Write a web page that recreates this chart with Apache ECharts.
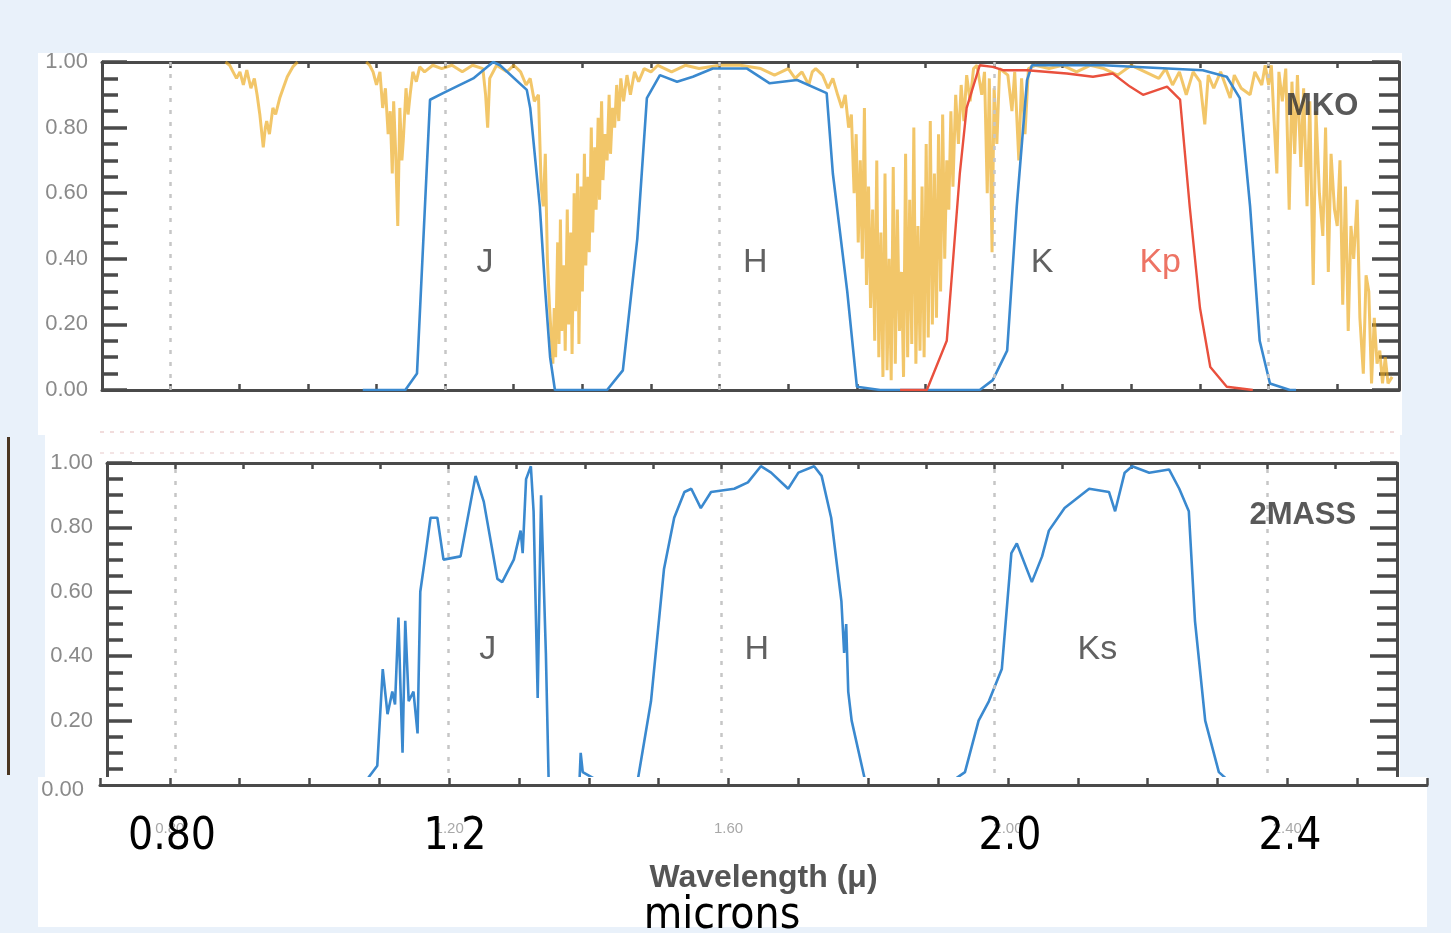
<!DOCTYPE html>
<html>
<head>
<meta charset="utf-8">
<script src="https://cdn.jsdelivr.net/npm/echarts@6/dist/echarts.min.js"></script>
<style>
  html, body { margin: 0; padding: 0; background: #e9f1fa; }
  #chart { width: 1451px; height: 933px; }
</style>
</head>
<body>
<div id="chart"></div>
<script>
// ==================== DATA ====================
// x: wavelength (micron), y: transmission
const xGridValues = [0.8, 1.2, 1.6, 2.0, 2.4];
const xTickLabels = ['0.80', '1.20', '1.60', '2.00', '2.40'];
const bigXLabels = ['0.80', '1.2', '2.0', '2.4'];

// MKO atmosphere (gold); null = gap along the top border
const atmMKO = [
  [0.88,1.0],[0.886,0.99],[0.891,0.97],[0.896,0.95],[0.901,0.97],[0.906,0.93],[0.911,0.975],[0.917,0.92],[0.922,0.95],
  [0.926,0.90],[0.930,0.84],[0.935,0.74],[0.938,0.80],[0.940,0.82],[0.944,0.78],[0.949,0.86],[0.953,0.84],[0.959,0.89],[0.964,0.92],
  [0.970,0.955],[0.978,0.985],[0.985,1.0],[1.03,null],
  [1.085,1.0],[1.090,0.99],[1.095,0.97],[1.100,0.93],[1.105,0.97],[1.109,0.86],[1.113,0.92],[1.117,0.78],[1.120,0.85],[1.123,0.66],
  [1.125,0.88],[1.128,0.72],[1.131,0.50],[1.134,0.86],[1.137,0.70],[1.139,0.76],[1.143,0.92],[1.146,0.84],[1.149,0.90],[1.153,0.97],
  [1.158,0.94],[1.163,0.985],[1.170,0.97],[1.182,0.99],[1.195,0.98],[1.210,0.99],[1.225,0.97],[1.240,0.99],[1.255,0.98],[1.259,0.90],
  [1.262,0.80],[1.265,0.95],[1.275,0.99],[1.290,0.97],[1.300,0.99],
  [1.310,0.97],[1.318,0.93],[1.324,0.95],[1.330,0.88],[1.336,0.90],[1.340,0.62],[1.343,0.56],[1.346,0.72],[1.349,0.40],[1.352,0.26],
  [1.355,0.15],[1.357,0.08],[1.359,0.25],[1.361,0.10],[1.364,0.45],[1.366,0.14],[1.368,0.52],[1.370,0.18],[1.373,0.38],[1.375,0.12],
  [1.378,0.55],[1.380,0.20],[1.383,0.48],[1.385,0.11],[1.388,0.60],[1.390,0.24],[1.393,0.66],[1.395,0.14],[1.398,0.62],[1.400,0.30],
  [1.403,0.72],[1.405,0.38],[1.408,0.65],[1.410,0.42],[1.413,0.80],[1.415,0.48],[1.418,0.74],[1.420,0.55],[1.423,0.83],[1.425,0.58],
  [1.428,0.88],[1.430,0.64],[1.433,0.78],[1.436,0.70],[1.439,0.90],[1.441,0.72],[1.444,0.86],[1.447,0.80],[1.450,0.93],[1.453,0.82],
  [1.456,0.95],[1.460,0.88],[1.465,0.96],[1.470,0.90],[1.476,0.97],[1.482,0.94],[1.490,0.98],[1.500,0.97],[1.510,0.99],
  [1.530,0.97],[1.550,0.99],[1.570,0.98],[1.600,0.99],[1.630,0.99],[1.660,0.98],[1.680,0.96],[1.700,0.98],[1.710,0.95],[1.720,0.97],
  [1.730,0.93],[1.735,0.97],
  [1.740,0.98],[1.750,0.96],[1.758,0.92],[1.765,0.95],[1.772,0.90],[1.778,0.86],[1.783,0.90],[1.788,0.80],[1.792,0.84],[1.796,0.60],
  [1.799,0.78],[1.802,0.45],[1.805,0.70],[1.808,0.40],[1.811,0.86],[1.814,0.32],[1.817,0.62],[1.820,0.25],[1.823,0.55],[1.826,0.15],
  [1.829,0.70],[1.832,0.10],[1.835,0.48],[1.838,0.04],[1.841,0.66],[1.844,0.06],[1.847,0.40],[1.850,0.03],[1.853,0.68],[1.856,0.08],
  [1.859,0.55],[1.862,0.18],[1.865,0.36],[1.868,0.04],[1.871,0.72],[1.874,0.10],[1.877,0.58],[1.880,0.14],[1.883,0.80],[1.886,0.08],
  [1.889,0.50],[1.892,0.12],[1.895,0.62],[1.898,0.10],[1.901,0.75],[1.904,0.16],[1.907,0.82],[1.910,0.20],[1.913,0.66],[1.916,0.22],
  [1.919,0.78],[1.922,0.30],[1.925,0.84],[1.928,0.40],[1.931,0.70],[1.934,0.55],[1.937,0.85],[1.940,0.62],[1.944,0.90],[1.948,0.75],
  [1.952,0.93],[1.956,0.82],[1.960,0.96],[1.965,0.88],[1.970,0.98],
  [1.975,0.99],[1.982,0.90],[1.986,0.97],[1.990,0.60],[1.993,0.95],[1.997,0.42],[2.000,0.92],[2.004,0.75],[2.008,0.98],[2.020,0.96],
  [2.026,0.85],[2.030,0.97],[2.036,0.70],[2.040,0.95],[2.045,0.78],[2.050,0.98],[2.060,0.99],[2.080,0.98],[2.100,0.99],[2.120,0.97],
  [2.140,0.99],[2.160,0.98],[2.180,0.96],[2.200,0.99],[2.220,0.97],[2.240,0.95],[2.250,0.98],[2.260,0.93],[2.270,0.97],[2.280,0.90],
  [2.290,0.97],[2.300,0.94],[2.307,0.81],[2.312,0.96],[2.320,0.92],[2.330,0.97],[2.344,0.89],[2.350,0.96],[2.360,0.92],[2.373,0.90],
  [2.380,0.97],[2.390,0.93],
  [2.395,0.99],[2.400,0.93],[2.404,0.99],[2.408,0.82],[2.412,0.66],[2.415,0.97],[2.420,0.88],[2.425,0.98],[2.430,0.55],[2.434,0.94],
  [2.438,0.72],[2.442,0.96],[2.447,0.68],[2.451,0.92],[2.456,0.56],[2.460,0.88],[2.465,0.32],[2.469,0.85],[2.474,0.60],[2.479,0.47],
  [2.483,0.80],[2.487,0.36],[2.491,0.72],[2.496,0.55],[2.500,0.50],[2.504,0.70],[2.508,0.26],[2.512,0.62],[2.516,0.18],[2.520,0.50],
  [2.524,0.40],[2.529,0.58],[2.533,0.22],[2.538,0.05],[2.542,0.35],[2.546,0.30],[2.550,0.02],[2.554,0.22],[2.558,0.08],[2.562,0.12],
  [2.566,0.02],[2.570,0.10],[2.574,0.02],[2.580,0.04]
];

// MKO J, H, K filters (blue)
const mkoJHK = [
  [1.08,0],[1.142,0],[1.159,0.05],[1.178,0.885],[1.197,0.905],[1.241,0.95],[1.270,1.0],[1.280,0.99],[1.319,0.915],[1.324,0.86],
  [1.338,0.56],[1.346,0.30],[1.353,0.10],[1.360,0.0],[1.436,0],[1.459,0.06],[1.480,0.46],[1.494,0.89],[1.513,0.96],[1.538,0.94],
  [1.561,0.955],[1.590,0.98],[1.640,0.98],[1.673,0.935],[1.713,0.945],[1.756,0.905],[1.765,0.66],[1.786,0.30],[1.800,0.01],[1.834,0],
  [1.979,0],[1.998,0.03],[2.019,0.12],[2.033,0.56],[2.048,0.945],[2.055,0.99],[2.159,0.99],[2.304,0.975],[2.339,0.955],[2.358,0.89],
  [2.373,0.56],[2.387,0.15],[2.402,0.02],[2.431,0],[2.44,0]
];

// MKO Kp filter (red)
const mkoKp = [
  [1.863,0],[1.902,0],[1.931,0.15],[1.950,0.66],[1.960,0.86],[1.979,0.99],[1.998,0.985],[2.013,0.975],[2.048,0.975],[2.106,0.965],
  [2.144,0.955],[2.173,0.965],[2.198,0.925],[2.217,0.90],[2.252,0.925],[2.271,0.885],[2.285,0.56],[2.300,0.25],[2.315,0.07],
  [2.339,0.01],[2.377,0]
];

// 2MASS J, H, Ks (blue)
const twoMass = [
  [1.05,0],[1.082,0.02],[1.096,0.06],[1.104,0.36],[1.111,0.22],[1.118,0.29],[1.122,0.25],[1.127,0.52],[1.130,0.30],[1.133,0.10],
  [1.137,0.51],[1.142,0.26],[1.149,0.29],[1.155,0.16],[1.159,0.60],[1.167,0.72],[1.174,0.83],[1.184,0.83],[1.193,0.70],[1.218,0.71],
  [1.240,0.96],[1.252,0.88],[1.272,0.64],[1.279,0.63],[1.296,0.70],[1.306,0.79],[1.309,0.72],[1.314,0.95],[1.321,0.99],[1.325,0.85],
  [1.331,0.27],[1.336,0.90],[1.343,0.41],[1.347,0.02],[1.392,0.0],[1.394,0.10],[1.397,0.04],[1.43,0.0],[1.478,0.02],[1.497,0.26],
  [1.516,0.67],[1.531,0.83],[1.546,0.91],[1.556,0.92],[1.570,0.86],[1.585,0.91],[1.619,0.92],[1.639,0.94],[1.658,0.99],[1.673,0.97],
  [1.698,0.92],[1.713,0.97],[1.736,0.99],[1.747,0.96],[1.761,0.83],[1.776,0.57],[1.780,0.41],[1.783,0.50],[1.786,0.29],[1.791,0.20],
  [1.810,0.02],[1.85,0],[1.93,0],[1.957,0.04],[1.977,0.20],[1.992,0.26],[2.011,0.36],[2.025,0.72],[2.033,0.75],[2.055,0.63],
  [2.070,0.71],[2.080,0.79],[2.103,0.86],[2.139,0.92],[2.168,0.91],[2.177,0.85],[2.191,0.97],[2.202,0.99],[2.227,0.97],[2.256,0.98],
  [2.271,0.92],[2.285,0.85],[2.294,0.51],[2.309,0.20],[2.329,0.04],[2.35,0]
];

// band names placed at [wavelength, transmission]
const mkoNames = [['J', 1.258, 0.387], ['H', 1.652, 0.387], ['K', 2.070, 0.387], ['Kp', 2.242, 0.387], ['MKO', 2.478, 0.863]];
const massNames = [['J', 1.258, 0.42], ['H', 1.652, 0.42], ['Ks', 2.151, 0.42], ['2MASS', 2.452, 0.838]];

// ==================== CHART ====================
const chart = echarts.init(document.getElementById('chart'));
const BLUE = '#3a89cf', RED = '#e9503d', GOLD = 'rgba(236,168,28,0.66)', AX = '#4a4a4a';
const FONT = '"Liberation Sans", Arial, sans-serif';
const BIGFONT = '"Liberation Sans Narrow", "DejaVu Sans Condensed", sans-serif';

const fmtX = v => {
  const i = xGridValues.findIndex(g => Math.abs(g - v) < 1e-6);
  return i >= 0 ? xTickLabels[i] : '';
};

function yLeft(grid, showMin) {
  return {
    type: 'value', gridIndex: grid, min: 0, max: 1, interval: 0.2,
    axisLine: { show: true, lineStyle: { color: AX, width: 3 } },
    axisTick: { inside: true, length: 25, lineStyle: { color: AX, width: 3.5 } },
    minorTick: { show: true, splitNumber: 4, length: 16, lineStyle: { color: AX, width: 3.5 } },
    axisLabel: { color: '#8a8a8a', fontSize: 22, fontFamily: FONT, margin: 14, showMinLabel: showMin, formatter: v => v.toFixed(2) },
    splitLine: { show: false }
  };
}
function yRight(grid) {
  return {
    type: 'value', gridIndex: grid, min: 0, max: 1, interval: 0.2, position: 'right',
    axisLine: { show: true, lineStyle: { color: AX, width: 3 } },
    axisTick: { inside: true, length: 27, lineStyle: { color: AX, width: 3.5 } },
    minorTick: { show: true, splitNumber: 4, length: 20, lineStyle: { color: AX, width: 3.5 } },
    axisLabel: { show: false }, splitLine: { show: false }
  };
}
function xEdge(grid, pos, show) {
  return {
    type: 'value', gridIndex: grid, min: 0.7, max: 2.59, interval: 0.1, position: pos, show: show,
    axisLine: { show: true, onZero: false, lineStyle: { color: AX, width: 3 } },
    axisTick: { inside: true, length: 6, lineStyle: { color: AX, width: 2.5 } },
    axisLabel: { show: false }, splitLine: { show: false }
  };
}
function gridLines(xi, yi) {
  return {
    type: 'line', xAxisIndex: xi, yAxisIndex: yi, data: [], silent: true,
    markLine: {
      silent: true, symbol: ['none', 'none'], label: { show: false },
      lineStyle: { type: [4, 8], width: 2.5, color: '#c6c6c6' },
      data: xGridValues.map(v => ({ xAxis: v }))
    }
  };
}
function names(list, xi, yi, size) {
  return {
    type: 'scatter', xAxisIndex: xi, yAxisIndex: yi, symbolSize: 1, silent: true, z: 6,
    itemStyle: { color: 'transparent' },
    data: list.map(n => ({
      name: n[0], value: [n[1], n[2]],
      label: {
        show: true, position: 'inside', formatter: '{b}', fontFamily: FONT,
        fontSize: n[0].length > 2 ? 31 : size, fontWeight: n[0].length > 2 ? 'bold' : 'normal',
        color: n[0] === 'Kp' ? RED : (n[0].length > 2 ? '#2f2f2f' : '#3a3a3a')
      }
    }))
  };
}

const bigLabelX = [172, 455, 1010, 1290];

chart.setOption({
  backgroundColor: '#e9f1fa',
  animation: false,
  grid: [
    { left: 102, top: 62, width: 1297, height: 328 },
    { left: 107, top: 463, width: 1290, height: 322 },
    { left: 100, top: 784, width: 1327, height: 1 }
  ],
  xAxis: [
    xEdge(0, 'bottom', true),
    xEdge(0, 'top', true),
    xEdge(1, 'bottom', false),
    xEdge(1, 'top', true),
    {
      type: 'value', gridIndex: 2, min: 0.7, max: 2.6, interval: 0.1, position: 'bottom', z: 20,
      axisLine: { show: true, onZero: false, lineStyle: { color: AX, width: 3 } },
      axisTick: { inside: true, length: 7, lineStyle: { color: AX, width: 2.5 } },
      axisLabel: { color: '#a8a8a8', fontSize: 15, fontFamily: FONT, margin: 36, formatter: fmtX },
      splitLine: { show: false },
      name: 'Wavelength (\u03bc)', nameLocation: 'middle', nameGap: 77,
      nameTextStyle: { color: '#555', fontSize: 32, fontWeight: 'bold', fontFamily: FONT }
    }
  ],
  yAxis: [
    yLeft(0, true),
    yRight(0),
    yLeft(1, false),
    yRight(1),
    { type: 'value', gridIndex: 2, min: 0, max: 1, show: false }
  ],
  series: [
    gridLines(0, 0),
    gridLines(2, 2),
    { name: 'Atmosphere', type: 'line', xAxisIndex: 0, yAxisIndex: 0, data: atmMKO, showSymbol: false, z: 2,
      connectNulls: false, lineStyle: { color: GOLD, width: 3 } },
    { name: 'MKO', type: 'line', xAxisIndex: 0, yAxisIndex: 0, data: mkoJHK, showSymbol: false, z: 3,
      lineStyle: { color: BLUE, width: 2.6 } },
    { name: 'Kp', type: 'line', xAxisIndex: 0, yAxisIndex: 0, data: mkoKp, showSymbol: false, z: 4,
      lineStyle: { color: RED, width: 2.4 } },
    { name: '2MASS', type: 'line', xAxisIndex: 2, yAxisIndex: 2, data: twoMass, showSymbol: false, z: 3,
      lineStyle: { color: BLUE, width: 2.6 } },
    names(mkoNames, 0, 0, 34),
    names(massNames, 2, 2, 34)
  ],
  graphic: [
    { type: 'rect', z: -10, shape: { x: 38, y: 53, width: 1364, height: 382 }, style: { fill: '#ffffff' } },
    { type: 'rect', z: -10, shape: { x: 45, y: 435, width: 1355, height: 342 }, style: { fill: '#ffffff' } },
    { type: 'rect', z: -10, shape: { x: 7, y: 437, width: 3, height: 338 }, style: { fill: '#4a3622' } },
    { type: 'line', z: -9, shape: { x1: 100, y1: 432, x2: 1400, y2: 432 }, style: { stroke: '#f1dcdc', lineWidth: 2, lineDash: [4, 6] } },
    { type: 'line', z: -9, shape: { x1: 100, y1: 453, x2: 1400, y2: 453 }, style: { stroke: '#f3e4e4', lineWidth: 2, lineDash: [4, 6] } },
    { type: 'rect', z: 10, shape: { x: 38, y: 777, width: 1389, height: 150 }, style: { fill: '#ffffff' } },
    { type: 'text', z: 30, style: { text: '0.00', x: 84, y: 790, align: 'right', verticalAlign: 'middle', fill: '#8a8a8a', fontSize: 22, fontFamily: FONT } },
    ...bigXLabels.map((t, i) => ({
      type: 'text', z: 30,
      style: { text: t, x: bigLabelX[i], y: 838, align: 'center', verticalAlign: 'middle', fill: '#000', fontSize: 44, fontFamily: BIGFONT }
    })),
    { type: 'text', z: 30, style: { text: 'microns', x: 722, y: 917, align: 'center', verticalAlign: 'middle', fill: '#000', fontSize: 44, fontFamily: BIGFONT } }
  ]
});
</script>
</body>
</html>
